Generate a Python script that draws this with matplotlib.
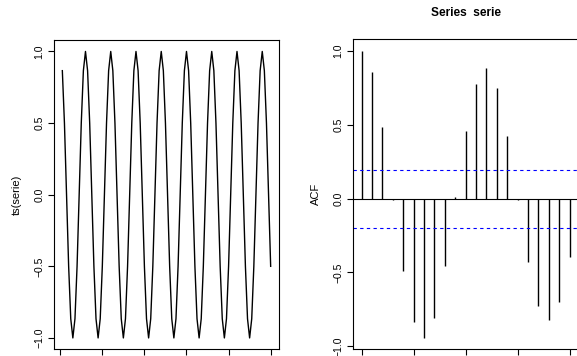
import matplotlib
matplotlib.use("Agg")
import matplotlib.pyplot as plt

plt.rcParams['font.family'] = ['Liberation Sans', 'DejaVu Sans']

# the series (index 1..100)
serie = [0.866, 0.5, 0.0, -0.5, -0.866, -1.0, -0.866, -0.5, 0.0, 0.5, 0.866, 1.0,
         0.866, 0.5, 0.0, -0.5, -0.866, -1.0, -0.866, -0.5, 0.0, 0.5, 0.866, 1.0,
         0.866, 0.5, 0.0, -0.5, -0.866, -1.0, -0.866, -0.5, 0.0, 0.5, 0.866, 1.0,
         0.866, 0.5, 0.0, -0.5, -0.866, -1.0, -0.866, -0.5, 0.0, 0.5, 0.866, 1.0,
         0.866, 0.5, 0.0, -0.5, -0.866, -1.0, -0.866, -0.5, 0.0, 0.5, 0.866, 1.0,
         0.866, 0.5, 0.0, -0.5, -0.866, -1.0, -0.866, -0.5, 0.0, 0.5, 0.866, 1.0,
         0.866, 0.5, 0.0, -0.5, -0.866, -1.0, -0.866, -0.5, 0.0, 0.5, 0.866, 1.0,
         0.866, 0.5, 0.0, -0.5, -0.866, -1.0, -0.866, -0.5, 0.0, 0.5, 0.866, 1.0,
         0.866, 0.5, 0.0, -0.5]
time_idx = list(range(1, len(serie) + 1))

# autocorrelations, lags 0..20
lags = list(range(21))
acf = [1.0, 0.857, 0.484, -0.007, -0.493, -0.833, -0.941, -0.805, -0.455, 0.009,
       0.457, 0.774, 0.882, 0.751, 0.423, -0.010, -0.432, -0.724, -0.821, -0.699, -0.394]
conf = 0.196

yticks = [-1.0, -0.5, 0.0, 0.5, 1.0]
ytick_labels = ["\u22121.0", "\u22120.5", "0.0", "0.5", "1.0"]

W, H = 577, 356
fig = plt.figure(figsize=(W / 100, H / 100), dpi=100)


def style(ax):
    for s in ax.spines.values():
        s.set_linewidth(0.8)
    ax.tick_params(axis='both', direction='out', length=4, width=0.8,
                   labelsize=7.5, pad=3)
    ax.tick_params(axis='x', labelbottom=False)
    ax.set_yticks(yticks)
    ax.set_yticklabels(ytick_labels, rotation=90, va='center')


# left: time series
ax1 = fig.add_axes([54 / W, (H - 349.4) / H, 225 / W, 309.4 / H])
ax1.plot(time_idx, serie, color='black', lw=1.0)
ax1.set_xlim(-2.96, 103.96)
ax1.set_ylim(-1.08, 1.08)
ax1.set_xticks([0, 20, 40, 60, 80, 100])
style(ax1)
ax1.set_ylabel("ts(serie)", fontsize=8, labelpad=9)

# right: ACF
ax2 = fig.add_axes([353.3 / W, (H - 349) / H, 224.6 / W, 309.7 / H])
ax2.vlines(lags, 0, acf, color='black', lw=1.0)
ax2.axhline(0, color='black', lw=0.8)
for c in (conf, -conf):
    ax2.axhline(c, color='blue', lw=0.8, dashes=(3, 3))
ax2.set_xlim(-0.8, 20.8)
ax2.set_ylim(-1.018, 1.078)
ax2.set_xticks([0, 5, 10, 15, 20])
style(ax2)
ax2.set_ylabel("ACF", fontsize=8, labelpad=9)
ax2.set_title("Series  serie", fontsize=8.6, fontweight='bold', pad=17)

fig.savefig("out.png", dpi=100)
